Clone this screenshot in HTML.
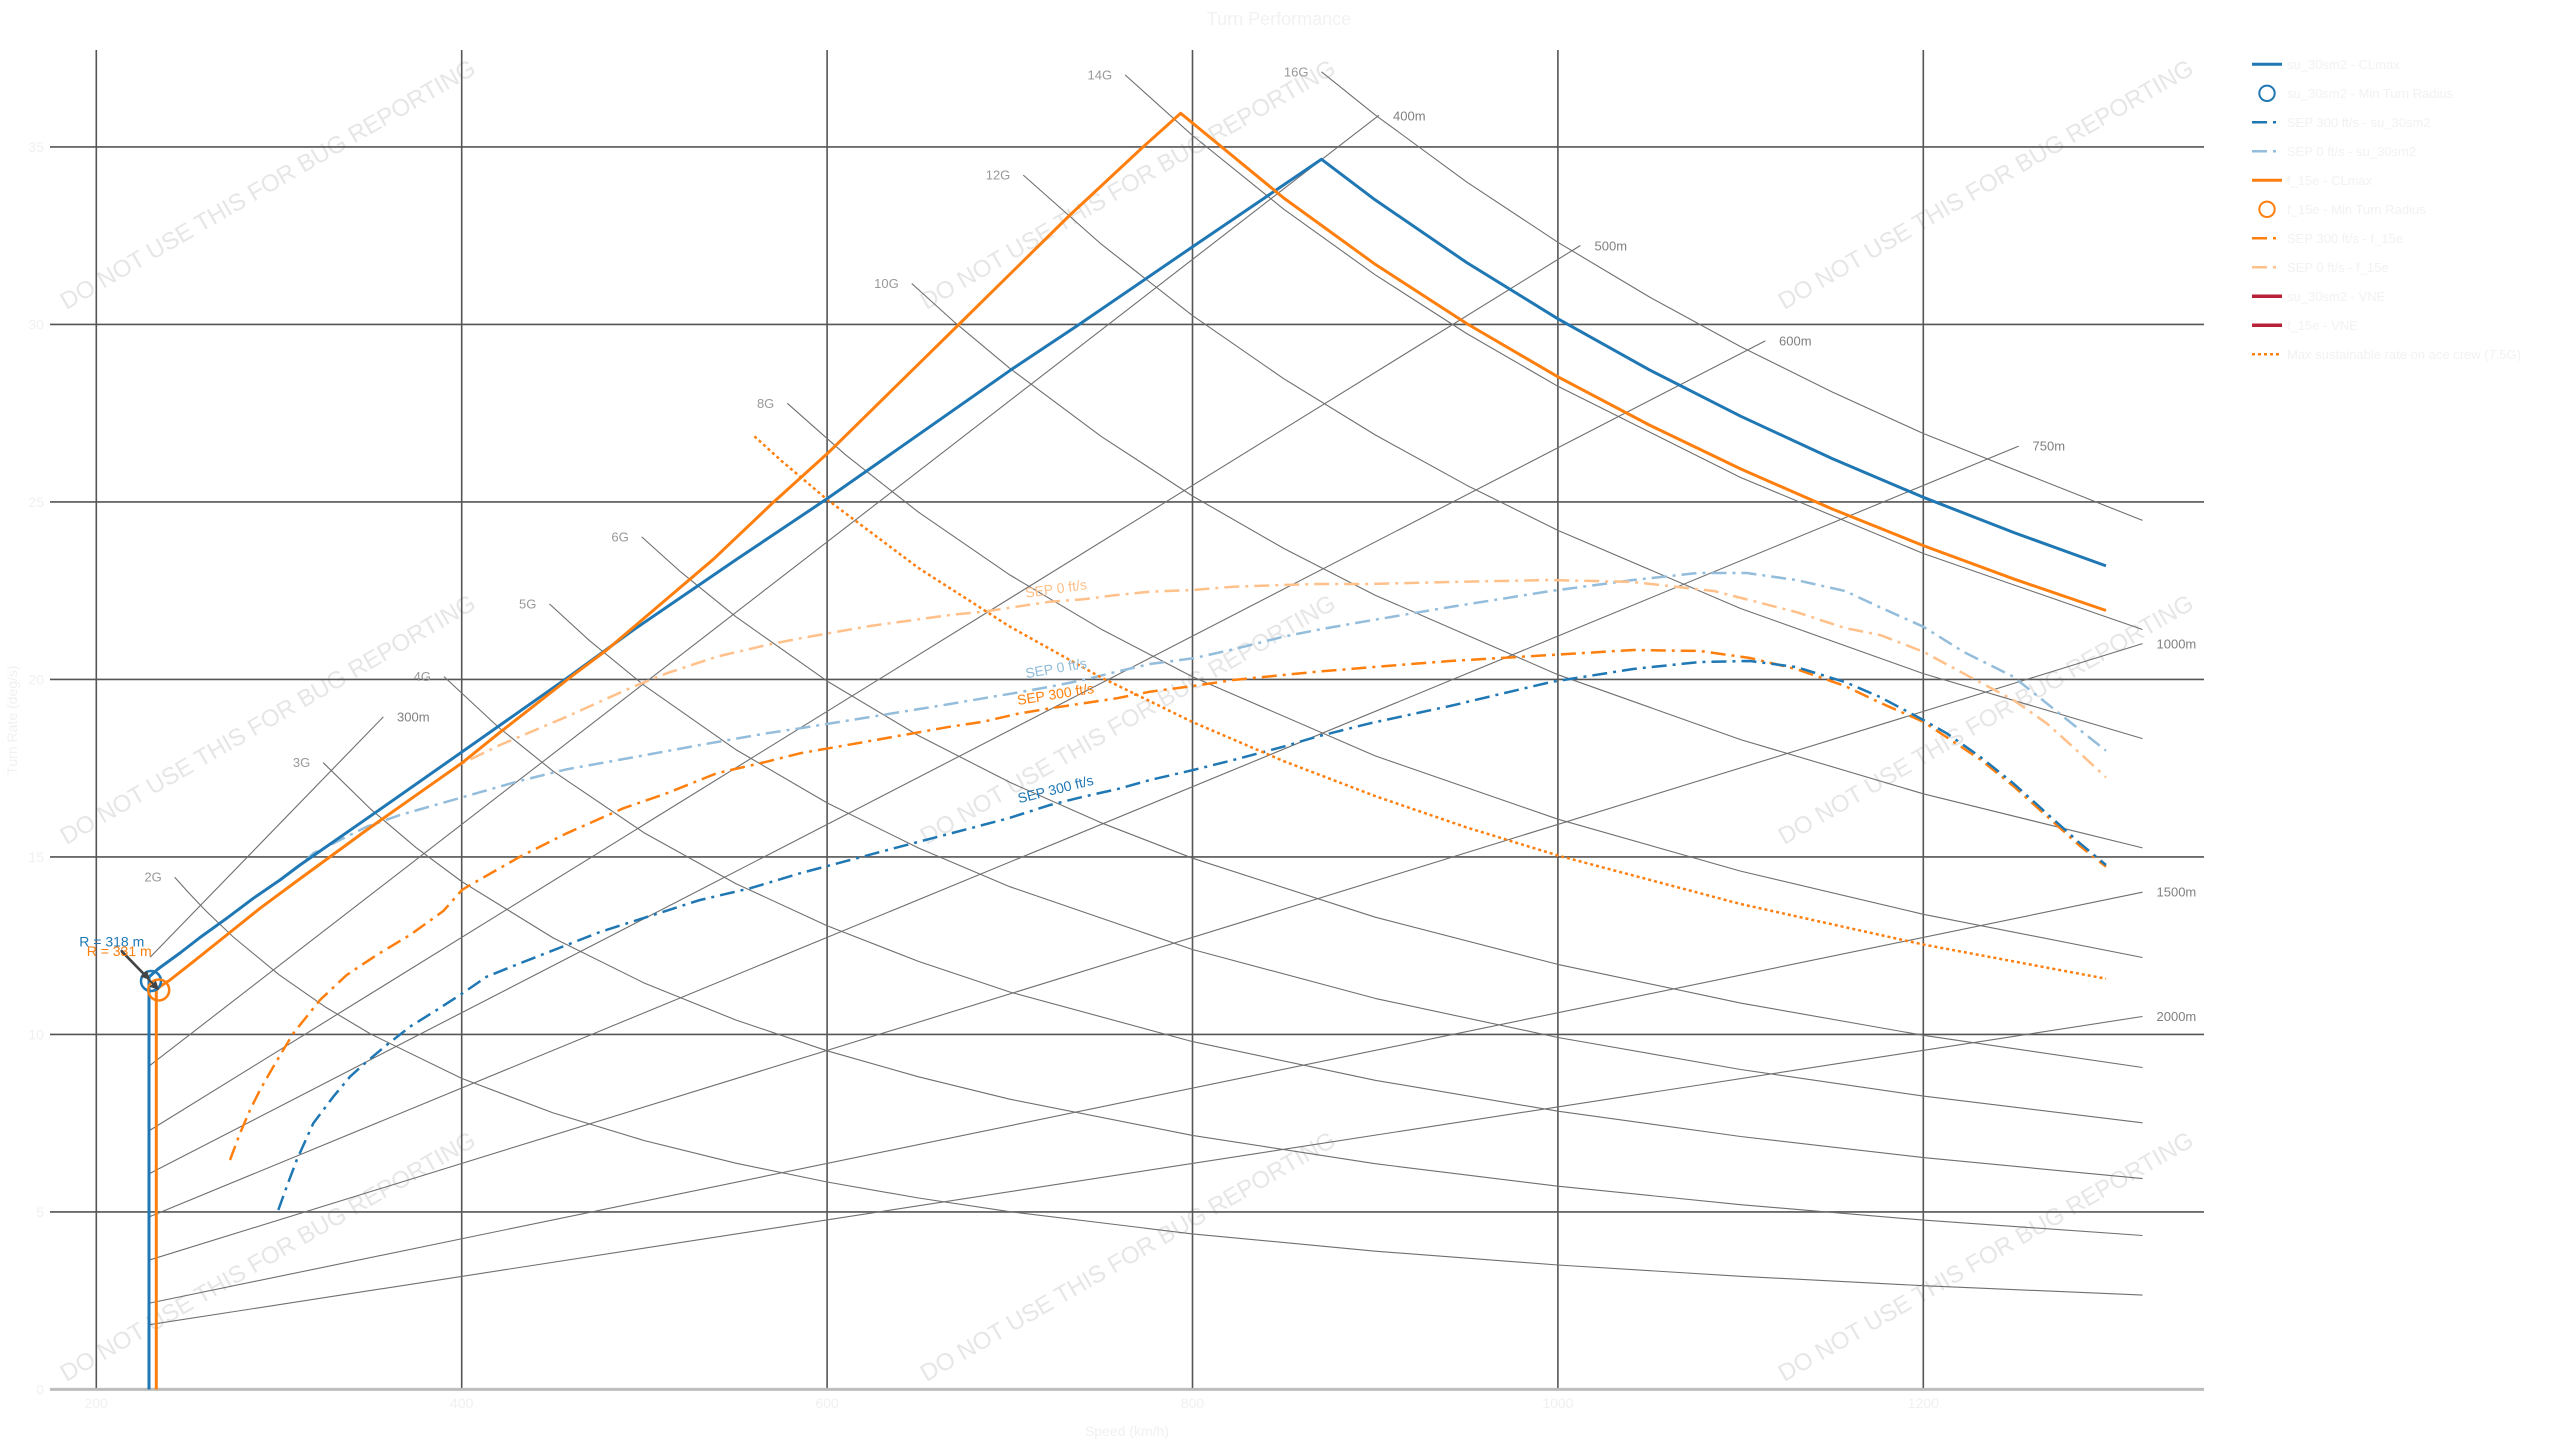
<!DOCTYPE html>
<html>
<head>
<meta charset="utf-8">
<style>
html,body{margin:0;padding:0;background:#fff;}
svg{display:block;}
text{font-family:"Liberation Sans",Arial,sans-serif;}
</style>
</head>
<body>
<svg width="2560" height="1440" viewBox="0 0 2560 1440" xmlns="http://www.w3.org/2000/svg">
<rect width="2560" height="1440" fill="#ffffff"/>

<!-- watermarks -->
<g fill="#e6e6e6" font-size="24" text-anchor="middle" dominant-baseline="central">
<text transform="translate(268,185) rotate(-30)">DO NOT USE THIS FOR BUG REPORTING</text>
<text transform="translate(1128,185) rotate(-30)">DO NOT USE THIS FOR BUG REPORTING</text>
<text transform="translate(1986,185) rotate(-30)">DO NOT USE THIS FOR BUG REPORTING</text>
<text transform="translate(268,720) rotate(-30)">DO NOT USE THIS FOR BUG REPORTING</text>
<text transform="translate(1128,720) rotate(-30)">DO NOT USE THIS FOR BUG REPORTING</text>
<text transform="translate(1986,720) rotate(-30)">DO NOT USE THIS FOR BUG REPORTING</text>
<text transform="translate(268,1257) rotate(-30)">DO NOT USE THIS FOR BUG REPORTING</text>
<text transform="translate(1128,1257) rotate(-30)">DO NOT USE THIS FOR BUG REPORTING</text>
<text transform="translate(1986,1257) rotate(-30)">DO NOT USE THIS FOR BUG REPORTING</text>
</g>

<!-- title -->
<text x="1279" y="19" font-size="18" fill="#f2f2f2" text-anchor="middle" dominant-baseline="central">Turn Performance</text>

<!-- vertical gridlines -->
<g stroke="#555555" stroke-width="1.6">
<line x1="96.3" y1="50" x2="96.3" y2="1389.4"/>
<line x1="461.7" y1="50" x2="461.7" y2="1389.4"/>
<line x1="827.1" y1="50" x2="827.1" y2="1389.4"/>
<line x1="1192.5" y1="50" x2="1192.5" y2="1389.4"/>
<line x1="1557.9" y1="50" x2="1557.9" y2="1389.4"/>
<line x1="1923.3" y1="50" x2="1923.3" y2="1389.4"/>
</g>
<!-- horizontal gridlines -->
<g stroke="#555555" stroke-width="1.6">
<line x1="50" y1="146.9" x2="2204" y2="146.9"/>
<line x1="50" y1="324.4" x2="2204" y2="324.4"/>
<line x1="50" y1="501.9" x2="2204" y2="501.9"/>
<line x1="50" y1="679.4" x2="2204" y2="679.4"/>
<line x1="50" y1="856.9" x2="2204" y2="856.9"/>
<line x1="50" y1="1034.4" x2="2204" y2="1034.4"/>
<line x1="50" y1="1211.9" x2="2204" y2="1211.9"/>
</g>
<line x1="50" y1="1389.4" x2="2204" y2="1389.4" stroke="#bdbdbd" stroke-width="3"/>

<!-- tick labels -->
<g font-size="14" fill="#f0f0f0" text-anchor="end" dominant-baseline="central">
<text x="44" y="1389.4">0</text>
<text x="44" y="1211.9">5</text>
<text x="44" y="1034.4">10</text>
<text x="44" y="856.9">15</text>
<text x="44" y="679.4">20</text>
<text x="44" y="501.9">25</text>
<text x="44" y="324.4">30</text>
<text x="44" y="146.9">35</text>
</g>
<g font-size="14" fill="#f0f0f0" text-anchor="middle" dominant-baseline="central">
<text x="96.3" y="1403">200</text>
<text x="461.7" y="1403">400</text>
<text x="827.1" y="1403">600</text>
<text x="1192.5" y="1403">800</text>
<text x="1557.9" y="1403">1000</text>
<text x="1923.3" y="1403">1200</text>
<text x="1127" y="1431">Speed (km/h)</text>
<text transform="translate(12,720) rotate(-90)">Turn Rate (deg/s)</text>
</g>

<!-- G lines -->
<g fill="none" stroke="#6f6f6f" stroke-width="1.1" stroke-linejoin="round">
<path d="M174.7,877.2 L187.7,891.7 L205.9,910.9 L233.3,937.0 L279.0,974.7 L324.7,1006.6 L370.4,1033.9 L461.7,1078.4 L553.1,1112.9 L644.4,1140.6 L735.8,1163.2 L827.1,1182.0 L918.5,1198.0 L1009.8,1211.7 L1192.5,1233.9 L1375.2,1251.2 L1557.9,1265.0 L1740.6,1276.3 L1923.3,1285.7 L2142.5,1295.1"/>
<path d="M323.2,762.7 L370.4,808.9 L416.0,847.6 L461.7,881.5 L553.1,937.9 L644.4,983.1 L735.8,1020.0 L827.1,1050.8 L918.5,1076.8 L1009.8,1099.2 L1192.5,1135.4 L1375.2,1163.7 L1557.9,1186.2 L1740.6,1204.7 L1923.3,1220.1 L2142.5,1235.5"/>
<path d="M444.0,676.6 L498.2,727.0 L553.1,771.2 L644.4,833.0 L735.8,883.6 L827.1,925.7 L918.5,961.4 L1009.8,992.0 L1192.5,1041.6 L1375.2,1080.3 L1557.9,1111.2 L1740.6,1136.5 L1923.3,1157.6 L2142.5,1178.6"/>
<path d="M549.4,603.9 L589.6,640.7 L644.4,685.6 L735.8,749.6 L827.1,802.9 L918.5,848.0 L1009.8,886.7 L1192.5,949.5 L1375.2,998.4 L1557.9,1037.5 L1740.6,1069.5 L1923.3,1096.1 L2142.5,1122.8"/>
<path d="M641.7,536.9 L680.9,572.1 L735.8,616.7 L827.1,681.1 L918.5,735.6 L1009.8,782.3 L1101.2,822.8 L1192.5,858.2 L1375.2,917.2 L1557.9,964.4 L1740.6,1003.1 L1923.3,1035.3 L2142.5,1067.5"/>
<path d="M787.3,403.3 L845.4,454.7 L918.5,512.2 L1009.8,574.9 L1101.2,629.2 L1192.5,676.7 L1375.2,755.9 L1557.9,819.2 L1740.6,871.1 L1923.3,914.3 L2142.5,957.5"/>
<path d="M911.7,283.5 L955.0,322.6 L1009.8,368.3 L1101.2,436.4 L1192.5,496.0 L1283.9,548.5 L1375.2,595.2 L1557.9,674.7 L1740.6,739.6 L1923.3,793.8 L2142.5,847.9"/>
<path d="M1023.3,175.1 L1101.2,244.1 L1192.5,315.6 L1283.9,378.8 L1375.2,434.9 L1466.6,485.2 L1557.9,530.4 L1740.6,608.5 L1923.3,673.6 L2142.5,738.6"/>
<path d="M1125.1,74.9 L1192.5,135.5 L1283.9,209.3 L1375.2,274.8 L1466.6,333.5 L1557.9,386.3 L1740.6,477.5 L1923.3,553.5 L2142.5,629.5"/>
<path d="M1321.5,71.8 L1375.2,114.9 L1466.6,181.9 L1557.9,242.3 L1649.3,296.9 L1740.6,346.6 L1832.0,391.9 L1923.3,433.5 L2142.5,520.4"/>
</g>
<!-- Radius lines -->
<g stroke="#6f6f6f" stroke-width="1.1">
<line x1="150.1" y1="957.3" x2="383.3" y2="716.9"/>
<line x1="150.1" y1="1065.3" x2="1378.9" y2="115.3"/>
<line x1="150.1" y1="1130.1" x2="1580.4" y2="245.5"/>
<line x1="150.1" y1="1173.3" x2="1765.3" y2="340.9"/>
<line x1="150.1" y1="1216.5" x2="2018.7" y2="446.1"/>
<line x1="150.1" y1="1259.8" x2="2142.5" y2="643.6"/>
<line x1="150.1" y1="1303.0" x2="2142.5" y2="892.2"/>
<line x1="150.1" y1="1324.6" x2="2142.5" y2="1016.5"/>
</g>

<!-- G labels -->
<g font-size="13" fill="#999999" text-anchor="end" dominant-baseline="central">
<text x="161.7" y="877.2">2G</text>
<text x="310.2" y="762.7">3G</text>
<text x="431" y="676.6">4G</text>
<text x="536.4" y="603.9">5G</text>
<text x="628.7" y="536.9">6G</text>
<text x="774.3" y="403.3">8G</text>
<text x="898.7" y="283.5">10G</text>
<text x="1010.3" y="175.1">12G</text>
<text x="1112.1" y="74.9">14G</text>
<text x="1308.5" y="71.8">16G</text>
</g>
<!-- R labels -->
<g font-size="13" fill="#808080" dominant-baseline="central">
<text x="397" y="717">300m</text>
<text x="1393" y="116">400m</text>
<text x="1594.5" y="246">500m</text>
<text x="1779" y="341">600m</text>
<text x="2032.5" y="446">750m</text>
<text x="2156.5" y="644">1000m</text>
<text x="2156.5" y="892">1500m</text>
<text x="2156.5" y="1016.5">2000m</text>
</g>

<!-- SEP 0 curves -->
<g fill="none" stroke-width="2.5" stroke-dasharray="15,6,3,6" stroke-linejoin="round">
<path stroke="#93bddb" d="M306,860 L313.3,853.3 L366.7,826.7 L400,815 L462.3,797.3 L516.7,781.7 L566.7,769.3 L633.3,757.3 L700,745 L766.7,733.3 L800,728.3 L870,717 L950,704 L983.3,698.3 L1016.7,692.7 L1050,686.7 L1083.3,680 L1116.7,671.7 L1150,664 L1193.3,658.3 L1233.3,649.3 L1283.3,636.7 L1316.7,630 L1363.3,621.7 L1450,607 L1551,591 L1633,580 L1698,573 L1747,573 L1796,580 L1845,591 L1880,607.3 L1923.3,626.7 L1963.3,651.7 L2013.3,676.7 L2046.7,703.3 L2080,730 L2106,750.7"/>
<path stroke="#ffc08a" d="M445,775 L462.3,763.3 L500,745 L566.7,716.7 L633.3,686.7 L666.7,673.3 L716.7,656.7 L766.7,645 L800,638.3 L870,626 L950,615 L983.3,611.7 L1016.7,606.7 L1050,601.7 L1083.3,599.3 L1116.7,595 L1150,591.7 L1193.3,590 L1233.3,586.7 L1283.3,585 L1316.7,584 L1370,584 L1450,582 L1551,580 L1633,582 L1714,591 L1796,612 L1845,628 L1880,635 L1923.3,651.7 L1963.3,673.3 L2013.3,700 L2046.7,723.3 L2080,753.3 L2106,777.3"/>
</g>
<!-- SEP 300 curves -->
<g fill="none" stroke-width="2.5" stroke-dasharray="15,6,3,6" stroke-linejoin="round">
<path stroke="#ff7f0e" d="M230,1160 L240,1133.3 L250,1110 L260,1090 L273.3,1066.7 L293.3,1033.3 L320,1000 L346.7,975 L376.7,955 L410,935 L443.3,911 L462,890 L466.7,887 L520,856.7 L566.7,833.3 L623.3,808.3 L666.7,793.3 L716.7,773.3 L766.7,761.7 L800,753.3 L870,741 L950,726.7 L983.3,721.7 L1016.7,714 L1050,708.3 L1083.3,703.3 L1116.7,698.3 L1150,691.7 L1193.3,686 L1233.3,680 L1283.3,675 L1316.7,671.7 L1370,667.3 L1450,661 L1551,655 L1633,650 L1700,651 L1750,658 L1796,669 L1845,686 L1880,702.7 L1923.3,721.7 L1980,759.3 L2013.3,786 L2046.7,816 L2080,846 L2106,866.7"/>
<path stroke="#1f77b4" d="M278.3,1210 L286.7,1186.7 L296.7,1160 L313.3,1123.3 L333.3,1096.7 L350,1076.7 L366.7,1061.7 L386.7,1045 L410,1026.7 L436.7,1010 L460,995 L486.7,976.7 L520,963.3 L600,932 L700,900 L750,888.3 L800,873.3 L900,846.7 L1008.3,818.3 L1050,805 L1083.3,796.7 L1116.7,789.3 L1150,780 L1193.3,770 L1233.3,760 L1283.3,746.7 L1316.7,736.7 L1370,723.3 L1450,706 L1551,682 L1633,669 L1700,662 L1750,661 L1796,667 L1845,682 L1880,697 L1923.3,720 L1946.7,733.3 L1980,756.7 L2013.3,783.3 L2046.7,813.3 L2080,843.3 L2106,865"/>
</g>

<!-- 7.5G dotted -->
<path fill="none" stroke="#ff7f0e" stroke-width="2.5" stroke-dasharray="3,3" d="M754.4,436.3 L781.4,460.8 L827.1,499.5 L918.5,568.0 L1009.8,626.6 L1101.2,677.5 L1192.5,722.0 L1283.9,761.2 L1375.2,796.1 L1466.6,827.4 L1557.9,855.5 L1740.6,904.0 L1923.3,944.5 L2106,978.7"/>

<!-- CLmax curves -->
<path fill="none" stroke="#1f77b4" stroke-width="3" stroke-linejoin="round" d="M149,1389.4 L149,977 L158,969 L180,953 L200,937.5 L226.7,918.3 L253.3,898.3 L280,880 L300,865 L376.7,811.7 L462.3,751.7 L566.7,678.3 L633.3,630 L736.7,559.3 L827.7,498.3 L1011.7,369.3 L1078.3,325 L1200,241.7 L1321.5,159.3 L1375.2,199.9 L1466.6,262.5 L1557.9,318.8 L1649.3,369.8 L1740.6,416.2 L1832.0,458.5 L1923.3,497.3 L2014.7,532.9 L2106,565.9"/>
<path fill="none" stroke="#ff7f0e" stroke-width="3" stroke-linejoin="round" d="M156.3,1389.4 L156.3,990 L160,986.5 L170,980 L193.3,961.7 L226.7,935 L260,908.3 L298.3,880 L366.7,830 L462.3,762.7 L500,732.3 L573.3,675 L606.7,650 L713.3,559.3 L774,501.7 L827.7,453.3 L958.3,325 L1070,215 L1143.3,146.7 L1180.7,113.3 L1283.9,198.1 L1375.2,264.3 L1466.6,323.5 L1557.9,376.8 L1649.3,425.0 L1740.6,468.9 L1832.0,508.9 L1923.3,545.6 L2014.7,579.3 L2106,610.5"/>

<!-- min radius markers -->
<circle cx="151" cy="981" r="10" fill="none" stroke="#1f77b4" stroke-width="2.5"/>
<circle cx="158.7" cy="990" r="10.5" fill="none" stroke="#ff7f0e" stroke-width="2.5"/>

<!-- arrows -->
<g stroke="#444" stroke-width="2">
<line x1="121" y1="950" x2="144" y2="973.7"/>
<line x1="121" y1="951" x2="153" y2="983.8"/>
</g>
<g fill="#444">
<polygon points="150,980 140.5,976.6 146.9,970.4"/>
<polygon points="159,990 149.5,986.7 155.9,980.5"/>
</g>
<text x="79.3" y="946.7" font-size="14" fill="#1f77b4">R = 318 m</text>
<text x="86.7" y="956" font-size="14" fill="#ff7f0e">R = 331 m</text>

<!-- SEP labels -->
<g font-size="14" text-anchor="middle" dominant-baseline="central">
<text transform="translate(1056,588.5) rotate(-8)" fill="#ffbf86">SEP 0 ft/s</text>
<text transform="translate(1056,668) rotate(-10)" fill="#8fbbd9">SEP 0 ft/s</text>
<text transform="translate(1055.5,694) rotate(-9)" fill="#ff7f0e">SEP 300 ft/s</text>
<text transform="translate(1055.5,789) rotate(-14)" fill="#1f77b4">SEP 300 ft/s</text>
</g>

<!-- legend -->
<g fill="none">
<line x1="2252" y1="64.3" x2="2282" y2="64.3" stroke="#1f77b4" stroke-width="3"/>
<circle cx="2267" cy="93.3" r="7.7" stroke="#1f77b4" stroke-width="2"/>
<line x1="2252" y1="122.3" x2="2282" y2="122.3" stroke="#1f77b4" stroke-width="2.5" stroke-dasharray="15,6,3,6"/>
<line x1="2252" y1="151.3" x2="2282" y2="151.3" stroke="#93bddb" stroke-width="2.5" stroke-dasharray="15,6,3,6"/>
<line x1="2252" y1="180.3" x2="2282" y2="180.3" stroke="#ff7f0e" stroke-width="3"/>
<circle cx="2267" cy="209.3" r="7.7" stroke="#ff7f0e" stroke-width="2"/>
<line x1="2252" y1="238.3" x2="2282" y2="238.3" stroke="#ff7f0e" stroke-width="2.5" stroke-dasharray="15,6,3,6"/>
<line x1="2252" y1="267.3" x2="2282" y2="267.3" stroke="#ffc08a" stroke-width="2.5" stroke-dasharray="15,6,3,6"/>
<line x1="2252" y1="296.3" x2="2282" y2="296.3" stroke="#b82138" stroke-width="3.5"/>
<line x1="2252" y1="325.3" x2="2282" y2="325.3" stroke="#b82138" stroke-width="3.5"/>
<line x1="2252" y1="354.3" x2="2280" y2="354.3" stroke="#ff7f0e" stroke-width="2.5" stroke-dasharray="3,3"/>
</g>
<g font-size="13" fill="#f2f2f2" dominant-baseline="central">
<text x="2287" y="64.3">su_30sm2 - CLmax</text>
<text x="2287" y="93.3">su_30sm2 - Min Turn Radius</text>
<text x="2287" y="122.3">SEP 300 ft/s - su_30sm2</text>
<text x="2287" y="151.3">SEP 0 ft/s - su_30sm2</text>
<text x="2287" y="180.3">f_15e - CLmax</text>
<text x="2287" y="209.3">f_15e - Min Turn Radius</text>
<text x="2287" y="238.3">SEP 300 ft/s - f_15e</text>
<text x="2287" y="267.3">SEP 0 ft/s - f_15e</text>
<text x="2287" y="296.3">su_30sm2 - VNE</text>
<text x="2287" y="325.3">f_15e - VNE</text>
<text x="2287" y="354.3">Max sustainable rate on ace crew (7.5G)</text>
</g>
</svg>
</body>
</html>
